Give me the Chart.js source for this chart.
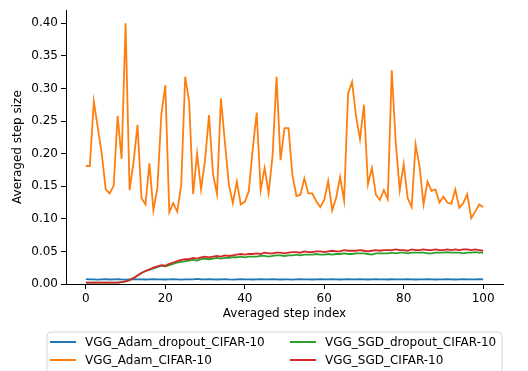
<!DOCTYPE html>
<html>
<head>
<meta charset="utf-8">
<script src="https://cdn.jsdelivr.net/npm/chart.js@4.4.1/dist/chart.umd.min.js"></script>
<style>
  html, body { margin: 0; padding: 0; background: #fff; }
  #wrap { width: 528px; height: 371px; }
</style>
</head>
<body>
<div id="wrap"><canvas id="stepChart" width="528" height="371"></canvas></div>
<script>
const SERIES_NAMES = ['VGG_Adam_dropout_CIFAR-10', 'VGG_Adam_CIFAR-10', 'VGG_SGD_dropout_CIFAR-10', 'VGG_SGD_CIFAR-10'];
const SERIES_COLORS = ['#1f77b4', '#ff7f0e', '#2ca02c', '#d62728'];
const X_TICKS = [0, 20, 40, 60, 80, 100];
const Y_TICKS = [0, 0.05, 0.10, 0.15, 0.20, 0.25, 0.30, 0.35, 0.40];

const adamDropout = [
  0.0075,0.0072,0.0070,0.0068,0.0071,0.0074,0.0069,0.0072,0.0075,0.0070,
  0.0068,0.0071,0.0073,0.0070,0.0072,0.0069,0.0071,0.0074,0.0070,0.0072,
  0.0069,0.0071,0.0073,0.0070,0.0068,0.0071,0.0072,0.0070,0.0078,0.0072,
  0.0070,0.0073,0.0071,0.0069,0.0072,0.0074,0.0070,0.0068,0.0071,0.0073,
  0.0070,0.0072,0.0069,0.0071,0.0073,0.0070,0.0072,0.0076,0.0071,0.0069,
  0.0072,0.0070,0.0068,0.0071,0.0073,0.0070,0.0072,0.0069,0.0071,0.0073,
  0.0070,0.0072,0.0074,0.0071,0.0069,0.0072,0.0075,0.0071,0.0070,0.0073,
  0.0071,0.0069,0.0072,0.0074,0.0070,0.0072,0.0069,0.0073,0.0071,0.0070,
  0.0072,0.0074,0.0071,0.0069,0.0072,0.0070,0.0073,0.0071,0.0069,0.0072,
  0.0070,0.0073,0.0071,0.0069,0.0072,0.0074,0.0071,0.0070,0.0072,0.0073,
  0.0072
];

const adam = [
  0.181,0.181,0.280,0.240,0.200,0.145,0.139,0.151,0.258,0.192,
  0.400,0.144,0.187,0.244,0.132,0.122,0.185,0.113,0.147,0.260,
  0.305,0.110,0.124,0.111,0.152,0.318,0.280,0.138,0.200,0.145,
  0.190,0.259,0.169,0.138,0.285,0.217,0.152,0.124,0.157,0.122,
  0.126,0.142,0.207,0.263,0.144,0.178,0.139,0.197,0.318,0.190,
  0.239,0.239,0.167,0.135,0.137,0.162,0.139,0.139,0.127,0.118,
  0.129,0.158,0.113,0.132,0.164,0.128,0.292,0.310,0.258,0.222,
  0.275,0.153,0.178,0.137,0.129,0.144,0.130,0.328,0.217,0.144,
  0.184,0.132,0.118,0.214,0.180,0.122,0.157,0.143,0.145,0.125,
  0.134,0.125,0.123,0.145,0.117,0.124,0.138,0.101,0.111,0.122,
  0.118
];

const sgdDropout = [
  0.002,0.002,0.002,0.002,0.002,0.002,0.002,0.002,0.002,0.003,
  0.004,0.006,0.009,0.013,0.017,0.020,0.022,0.024,0.026,0.028,
  0.027,0.029,0.031,0.033,0.034,0.035,0.036,0.037,0.036,0.038,
  0.039,0.038,0.039,0.040,0.039,0.040,0.040,0.041,0.041,0.042,
  0.041,0.042,0.042,0.042,0.043,0.043,0.042,0.043,0.044,0.044,
  0.043,0.044,0.044,0.045,0.044,0.045,0.045,0.045,0.046,0.045,
  0.045,0.046,0.045,0.046,0.046,0.047,0.046,0.046,0.047,0.047,
  0.047,0.046,0.045,0.047,0.047,0.047,0.047,0.048,0.047,0.048,
  0.048,0.047,0.048,0.048,0.048,0.048,0.047,0.047,0.048,0.048,
  0.048,0.049,0.048,0.048,0.048,0.047,0.048,0.048,0.049,0.048,
  0.048
];

const sgd = [
  0.002,0.002,0.002,0.002,0.002,0.002,0.002,0.002,0.002,0.003,
  0.004,0.006,0.009,0.013,0.017,0.020,0.022,0.025,0.027,0.029,
  0.028,0.031,0.033,0.035,0.037,0.038,0.038,0.040,0.039,0.041,
  0.042,0.041,0.042,0.043,0.042,0.044,0.043,0.044,0.045,0.046,
  0.045,0.046,0.046,0.047,0.046,0.048,0.047,0.047,0.048,0.048,
  0.047,0.048,0.049,0.049,0.048,0.050,0.049,0.049,0.050,0.050,
  0.049,0.050,0.051,0.050,0.050,0.052,0.051,0.051,0.051,0.052,
  0.051,0.050,0.051,0.052,0.051,0.052,0.052,0.052,0.053,0.052,
  0.052,0.051,0.053,0.052,0.052,0.053,0.052,0.052,0.053,0.052,
  0.052,0.053,0.052,0.053,0.052,0.053,0.053,0.052,0.053,0.052,
  0.051
];

const FONT = { family: '"DejaVu Sans", sans-serif', size: 12 };

function toPoints(values) {
    return values.map((v, i) => ({ x: i, y: v }));
}

// matplotlib style legend box under the axis, two columns
const boxLegend = {
    id: 'boxLegend',
    afterDraw(chart) {
        const ctx = chart.ctx;
        const ds = chart.data.datasets;
        const left = 47, top = 332, right = 502, bottom = 378, r = 4;
        ctx.save();
        ctx.beginPath();
        ctx.moveTo(left + r, top);
        ctx.lineTo(right - r, top);
        ctx.arcTo(right, top, right, top + r, r);
        ctx.lineTo(right, bottom);
        ctx.lineTo(left, bottom);
        ctx.lineTo(left, top + r);
        ctx.arcTo(left, top, left + r, top, r);
        ctx.closePath();
        ctx.fillStyle = 'rgba(255,255,255,0.8)';
        ctx.fill();
        ctx.strokeStyle = '#d6d6d6';
        ctx.lineWidth = 1;
        ctx.stroke();

        const cols = [50, 290];
        const rows = [342, 360];
        ctx.font = `${FONT.size}px ${FONT.family}`;
        ctx.textBaseline = 'middle';
        ctx.textAlign = 'left';
        ds.forEach((d, i) => {
            const cx = cols[Math.floor(i / 2)];
            const cy = rows[i % 2];
            ctx.strokeStyle = d.borderColor;
            ctx.lineWidth = 2;
            ctx.beginPath();
            ctx.moveTo(cx, cy);
            ctx.lineTo(cx + 26, cy);
            ctx.stroke();
            ctx.fillStyle = '#000';
            ctx.fillText(d.label, cx + 35, cy + 1);
        });
        ctx.restore();
    }
};

const datasets = [adamDropout, adam, sgdDropout, sgd].map((vals, i) => ({
    label: SERIES_NAMES[i],
    data: toPoints(vals),
    borderColor: SERIES_COLORS[i],
    backgroundColor: SERIES_COLORS[i],
    borderWidth: 1.8,
    pointRadius: 0,
    tension: 0,
    order: 4 - i
}));

new Chart(document.getElementById('stepChart').getContext('2d'), {
    type: 'line',
    data: { datasets },
    options: {
        responsive: false,
        animation: false,
        devicePixelRatio: 1,
        layout: { padding: { left: 0, top: 7, right: 25, bottom: 50 } },
        plugins: {
            legend: { display: false },
            tooltip: { enabled: false }
        },
        scales: {
            x: {
                type: 'linear',
                min: -5,
                max: 105,
                afterFit: s => { s.height = 37; },
                afterBuildTicks: s => { s.ticks = X_TICKS.map(v => ({ value: v })); },
                grid: { drawOnChartArea: false, drawTicks: true, tickLength: 5, color: '#000' },
                border: { display: true, color: '#000', width: 1 },
                ticks: { color: '#000', font: FONT, padding: 3, maxRotation: 0, callback: v => String(v) },
                title: { display: true, text: 'Averaged step index', color: '#000', font: FONT, padding: { top: 2, bottom: 0 } }
            },
            y: {
                type: 'linear',
                min: 0,
                max: 0.42,
                afterFit: s => { s.width = 66; },
                afterBuildTicks: s => { s.ticks = Y_TICKS.map(v => ({ value: v })); },
                grid: { drawOnChartArea: false, drawTicks: true, tickLength: 5, color: '#000' },
                border: { display: true, color: '#000', width: 1 },
                ticks: { color: '#000', font: FONT, padding: 3, callback: v => v.toFixed(2) },
                title: { display: true, text: 'Averaged step size', color: '#000', font: FONT, padding: { top: 11, bottom: 0 } }
            }
        }
    },
    plugins: [boxLegend]
});
</script>
</body>
</html>
